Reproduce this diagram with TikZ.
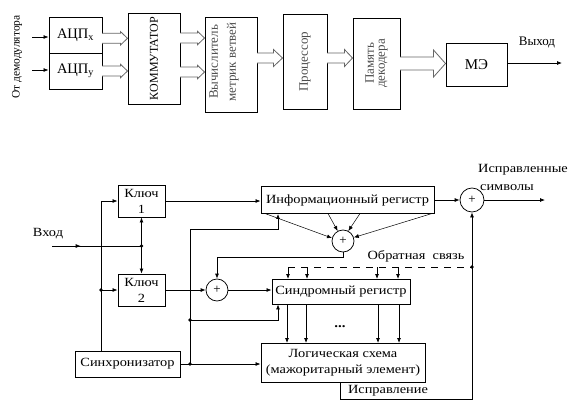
\documentclass[tikz,border=0pt]{standalone}
\usepackage{fontspec}
\setmainfont{Liberation Serif}
\newfontfamily\widefont{Liberation Serif}[FakeStretch=1.15]
\usetikzlibrary{arrows.meta,calc}
\newcommand\harrow[6]{%
  \draw[hol] (#1,#3-#4) -- (#2-#6,#3-#4) -- (#2-#6,#3-#5) -- (#2,#3) -- (#2-#6,#3+#5) -- (#2-#6,#3+#4) -- (#1,#3+#4);}
\begin{document}
\begin{tikzpicture}[x=1pt,y=-1pt,
  >={Latex[length=5pt,width=4pt]}, line width=0.75pt,
  box/.style={draw, line width=0.9pt, inner sep=0pt, align=center},
  tbox/.style={box, rotate=90},
  lbox/.style={box, font=\widefont\fontsize{12.5pt}{16pt}\selectfont},
  sum/.style={draw, circle, minimum size=22pt, inner sep=0pt, font=\fontsize{13pt}{13pt}\selectfont},
  dot/.style={circle, fill, inner sep=0pt, minimum size=3.8pt},
  hol/.style={draw=black!60, line width=0.8pt, fill=white},
  lbl/.style={inner sep=0pt, font=\widefont\fontsize{12.5pt}{15pt}\selectfont}]
\useasboundingbox (0,0) rectangle (577,408);

% ---------- top diagram ----------
\node[inner sep=0pt, rotate=90, font=\fontsize{11.5pt}{13pt}\selectfont] (src) at (17,57) {От демодулятора};
\node[box, minimum width=53pt, minimum height=36pt, font=\fontsize{14.5pt}{16pt}\selectfont] (adcx) at (75.5,35) {АЦП\textsubscript{x}};
\node[box, minimum width=53pt, minimum height=36pt, font=\fontsize{14.5pt}{16pt}\selectfont] (adcy) at (75.5,71) {АЦП\textsubscript{y}};
\coordinate (ix) at (32,37);
\coordinate (iy) at (32,70);
\draw[->] (ix) -- (ix -| adcx.west);
\draw[->] (iy) -- (iy -| adcy.west);
\node[tbox, minimum width=91pt, minimum height=52pt, font=\fontsize{12pt}{14pt}\selectfont] (kom) at (154,58.5) {КОММУТАТОР};
\node[tbox, minimum width=95pt, minimum height=52pt] (vych) at (231,64.5) {};
\node[inner sep=0pt, rotate=90, align=center, text=black!70, font=\fontsize{13pt}{18pt}\selectfont] (vychl) at (224,62) {Вычислитель\\метрик ветвей};
\node[tbox, minimum width=95pt, minimum height=44pt, text=black!70, font=\fontsize{13pt}{15pt}\selectfont] (proc) at (305,61.5) {Процессор};
\node[tbox, minimum width=91pt, minimum height=47pt, text=black!70, font=\fontsize{13pt}{11pt}\selectfont] (mem) at (376.5,63.5) {Память\\декодера};
\node[box, minimum width=61pt, minimum height=43pt, font=\fontsize{15pt}{16pt}\selectfont] (me) at (476.5,64.5) {МЭ};
\coordinate (out) at (562,63);
\draw[->] (me.east |- out) -- (out);
\node[inner sep=0pt, font=\fontsize{13pt}{15pt}\selectfont] (outl) at (537,42) {Выход};

\harrow{102}{127.5}{38.3}{5}{6.7}{7}
\harrow{102}{127.5}{71}{5}{6.7}{7}
\harrow{180}{204.5}{38}{5}{6.7}{7}
\harrow{180}{204.5}{72}{5}{6.7}{7}
\harrow{257}{282.5}{58}{5}{8.5}{9}
\harrow{327}{352.5}{58}{5}{8.5}{8}
\harrow{400}{445.5}{63.5}{6.5}{13.5}{12}

% ---------- bottom diagram ----------
\node[lbox, minimum width=47pt, minimum height=32pt] (k1) at (141.5,201) {Ключ\\1};
\node[lbox, minimum width=47pt, minimum height=32pt] (k2) at (141.5,290) {Ключ\\2};
\node[lbox, minimum width=105pt, minimum height=26pt] (sync) at (127.5,364) {Синхронизатор};
\node[lbox, minimum width=173pt, minimum height=27pt] (inf) at (347.5,200) {Информационный регистр};
\node[sum] (s1) at (343,241) {+};
\node[sum] (s2) at (217,290) {+};
\node[sum, minimum size=24pt] (s3) at (472,200) {+};
\node[lbox, minimum width=138pt, minimum height=25pt] (synd) at (341,291.5) {Синдромный регистр};
\node[lbox, minimum width=164pt, minimum height=39pt] (logic) at (343,362.5) {Логическая схема\\(мажоритарный элемент)};

% input
\coordinate (in) at (52,246);
\coordinate (j1) at (k1.south |- in);
\draw (in) -- (j1);
\draw[->] (in) -- ($(in)!0.32!(j1)$);
\draw[->] (j1) -- (k1.south);
\draw[->] (j1) -- (k2.north);
\node[dot] at (j1) {};

% synchronizer left line
\coordinate (lx) at (101,0);
\draw[->] (sync.north -| lx) |- (k1.west);
\draw[->] (k2.west -| lx) -- (k2.west);
\node[dot] at (k2.west -| lx) {};

\draw[->] (k1.east) -- (k1.east -| inf.west);
\draw[->] (k2.east) -- (s2.west);
\draw[->] (s2.east) -- (s2.east -| synd.west);

% bus x=190
\coordinate (bx) at (190,229);
\coordinate (ia) at (278,0);
\draw[->] (bx) -| (ia |- inf.south);
\draw (bx) -- (bx |- sync.east);
\coordinate (bm) at (190,320);
\draw[->] (bm) -| (ia |- synd.south);
\node[dot] at (bm) {};
\draw[->] (sync.east) -- (sync.east -| logic.west);
\node[dot] at (bx |- sync.east) {};

% converging into s1
\foreach \x/\a in {265/165, 328/118, 360/62, 432/18}
  \draw[->, line width=0.5pt] (\x,213.5) -- (s1.\a);
\draw[->] (s1.south) -- ++(0,5) -| (s2.north);

% feedback
\coordinate (fb) at (472,267);
\draw[dash pattern=on 7pt off 6pt] (288,267) -- (fb);
\foreach \x in {288,307,377,398}
  \draw[->] (\x,267) -- (\x,279);
\draw[->] (fb) -- (s3.south);
\node[dot] at (fb) {};
\coordinate (cx) at (340,399);
\draw (fb) |- (cx) -- (cx |- logic.south);
\draw[->] (inf.east) -- (s3.west);
\coordinate (o2) at (545,200);
\draw[->] (s3.east) -- (o2);

\foreach \x in {287,306,378,399}
  \draw[->] (\x,304) -- (\x,343);

% labels
\node[lbl] at (48,234) {Вход};
\node[lbl] at (416,256) {Обратная\ \ связь};
\node[lbl] at (523,170) {Исправленные};
\node[lbl] at (507,188) {символы};
\node[lbl] at (388,391) {Исправление};
\node[lbl, font=\widefont\bfseries\fontsize{13pt}{15pt}\selectfont] at (340,327) {...};
\end{tikzpicture}
\end{document}
